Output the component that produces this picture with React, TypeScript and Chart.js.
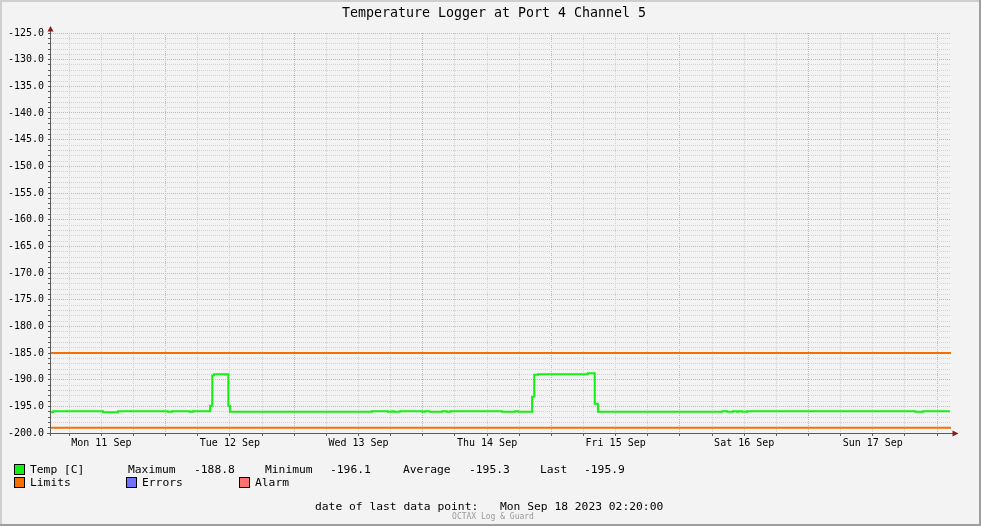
import React, { useEffect, useRef } from 'react';
import { Chart, registerables } from 'chart.js';

Chart.register(...registerables);

// ---------- data ----------
const TITLE = 'Temperature Logger at Port 4 Channel 5';
// x values are hours since Mon 11 Sep 2023 00:00
const X_MIN_H = 2.6;
const X_MAX_H = 170.6;
const Y_MIN = -200;
const Y_MAX = -125;
const DAY_LABELS = ['Mon 11 Sep', 'Tue 12 Sep', 'Wed 13 Sep', 'Thu 14 Sep', 'Fri 15 Sep', 'Sat 16 Sep', 'Sun 17 Sep'];

const TEMP_HOURS = [2.6, 3.0, 12.3, 15.1, 24.4, 25.2, 28.5, 29.1, 32.3, 32.7, 33.0, 35.7, 36.0, 62.5, 65.5, 66.2, 66.6, 67.7,
  71.9, 72.4, 73.3, 75.6, 76.5, 77.1, 86.8, 89.2, 89.8, 92.4, 92.8, 93.5, 102.8, 104.1, 104.7, 127.9, 128.8, 129.9, 130.6,
  131.0, 131.6, 132.5, 163.9, 165.4, 170.4];
const TEMP_VALUES = [-196.1, -195.9, -196.1, -195.9, -196.0, -195.9, -196.0, -195.9, -194.9, -189.2, -189.0, -194.9, -196.0,
  -195.9, -196.0, -195.9, -196.0, -195.9, -196.0, -195.9, -196.0, -195.9, -196.0, -195.9, -196.0, -195.9, -196.0, -193.2,
  -189.1, -189.0, -188.8, -194.5, -196.0, -195.9, -196.0, -195.9, -196.0, -195.9, -196.0, -195.9, -196.0, -195.9, -195.9];

const LIMIT_HIGH = -185;
const LIMIT_LOW = -199;

const STAT_LABELS = ['Maximum', 'Minimum', 'Average', 'Last'];
const STAT_VALUES = ['-188.8', '-196.1', '-195.3', '-195.9'];
const LAST_POINT_LABEL = 'date of last data point:';
const LAST_POINT_DATE = 'Mon Sep 18 2023 02:20:00';
const WATERMARK = 'OCTAX Log & Guard';

// ---------- styles ----------
const BG = '#f3f3f3';
const TEMP_COLOR = '#14f014';
const LIMIT_COLOR = '#f57000';
const ERROR_COLOR = '#7070ff';
const ALARM_COLOR = '#ff7070';
const MINOR_GRID = '#d2d2d2';
const MAJOR_GRID = '#f2a4a4';
const AXIS_COLOR = '#5c5c5c';
const ARROW_COLOR = '#8a1c1c';
const MONO = '"DejaVu Sans Mono", monospace';

const W = 981;
const H = 526;

const decorPlugin = {
  id: 'rrdDecor',
  beforeDraw(chart: any) {
    const ctx = chart.ctx;
    ctx.save();
    ctx.fillStyle = BG;
    ctx.fillRect(0, 0, W, H);
    ctx.fillStyle = '#cfcfcf';
    ctx.fillRect(0, 0, W, 2);
    ctx.fillRect(0, 0, 2, H);
    ctx.fillStyle = '#9e9e9e';
    ctx.fillRect(0, H - 2, W, 2);
    ctx.fillRect(W - 2, 0, 2, H);
    ctx.restore();
  },
  afterDraw(chart: any) {
    const ctx = chart.ctx;
    const a = chart.chartArea;
    ctx.save();
    // axes
    ctx.strokeStyle = AXIS_COLOR;
    ctx.lineWidth = 1;
    ctx.beginPath();
    ctx.moveTo(a.left - 0.5, a.bottom + 3);
    ctx.lineTo(a.left - 0.5, a.top - 2);
    ctx.moveTo(a.left - 4, a.bottom + 0.5);
    ctx.lineTo(a.right + 3, a.bottom + 0.5);
    ctx.stroke();
    // arrows
    ctx.fillStyle = ARROW_COLOR;
    ctx.beginPath();
    ctx.moveTo(a.left - 0.5, a.top - 7);
    ctx.lineTo(a.left - 3.5, a.top - 1.5);
    ctx.lineTo(a.left + 2.5, a.top - 1.5);
    ctx.closePath();
    ctx.fill();
    ctx.beginPath();
    ctx.moveTo(a.right + 7.5, a.bottom + 0.5);
    ctx.lineTo(a.right + 1.5, a.bottom - 2.5);
    ctx.lineTo(a.right + 1.5, a.bottom + 3.5);
    ctx.closePath();
    ctx.fill();

    // title
    ctx.fillStyle = '#000';
    ctx.textBaseline = 'middle';
    ctx.textAlign = 'center';
    ctx.font = '13.3px ' + MONO;
    ctx.fillText(TITLE, 494, 13.5);

    // legend
    ctx.textAlign = 'left';
    ctx.font = '11.3px ' + MONO;
    const box = (x: number, y: number, c: string) => {
      ctx.fillStyle = c;
      ctx.fillRect(x, y, 9, 9);
      ctx.strokeStyle = '#000';
      ctx.lineWidth = 1;
      ctx.strokeRect(x - 0.5, y - 0.5, 10, 10);
    };
    box(15, 465, TEMP_COLOR);
    ctx.fillStyle = '#000';
    ctx.fillText('Temp [C]', 30, 470);
    const statLabelX = [128, 265, 403, 540];
    const statValueX = [194, 330, 469, 584];
    STAT_LABELS.forEach((l, i) => {
      ctx.fillText(l, statLabelX[i], 470);
      ctx.fillText(STAT_VALUES[i], statValueX[i], 470);
    });
    box(15, 478, LIMIT_COLOR);
    box(127, 478, ERROR_COLOR);
    box(240, 478, ALARM_COLOR);
    ctx.fillStyle = '#000';
    ctx.fillText('Limits', 30, 483);
    ctx.fillText('Errors', 142, 483);
    ctx.fillText('Alarm', 255, 483);

    // footer
    ctx.fillText(LAST_POINT_LABEL, 315, 507);
    ctx.fillText(LAST_POINT_DATE, 500, 507);
    ctx.fillStyle = '#9a9a9a';
    ctx.textAlign = 'center';
    ctx.font = '8px ' + MONO;
    ctx.fillText(WATERMARK, 493, 516.5);
    ctx.restore();
  },
};

export default function App() {
  const ref = useRef<HTMLCanvasElement | null>(null);

  useEffect(() => {
    if (!ref.current) return;
    const tempData = TEMP_HOURS.map((h, i) => ({ x: h, y: TEMP_VALUES[i] }));
    const chart = new Chart(ref.current, {
      type: 'line',
      data: {
        datasets: [
          {
            label: 'Limits high',
            data: [{ x: X_MIN_H, y: LIMIT_HIGH }, { x: X_MAX_H, y: LIMIT_HIGH }],
            borderColor: LIMIT_COLOR,
            borderWidth: 2,
            pointRadius: 0,
          },
          {
            label: 'Limits low',
            data: [{ x: X_MIN_H, y: LIMIT_LOW }, { x: X_MAX_H, y: LIMIT_LOW }],
            borderColor: LIMIT_COLOR,
            borderWidth: 2,
            pointRadius: 0,
          },
          {
            label: 'Temp [C]',
            data: tempData,
            borderColor: TEMP_COLOR,
            borderWidth: 2,
            pointRadius: 0,
            stepped: true,
          },
        ],
      },
      options: {
        animation: false,
        responsive: false,
        devicePixelRatio: 1,
        layout: { padding: { left: 0, right: 30, top: 33, bottom: 73 } },
        plugins: {
          legend: { display: false },
          title: { display: false },
          tooltip: { enabled: false },
        },
        events: [],
        scales: {
          x: {
            type: 'linear',
            min: X_MIN_H,
            max: X_MAX_H,
            afterFit: (s: any) => { s.height = 20; },
            afterBuildTicks: (s: any) => {
              const t = [];
              for (let v = Math.ceil(X_MIN_H / 6) * 6; v <= X_MAX_H; v += 6) t.push({ value: v });
              s.ticks = t;
            },
            ticks: {
              autoSkip: false,
              maxRotation: 0,
              minRotation: 0,
              padding: 1,
              color: '#000',
              font: { family: 'DejaVu Sans Mono', size: 10 },
              callback: (v: any) => {
                const n = Number(v);
                if (n % 24 === 12) {
                  const d = Math.floor(n / 24);
                  return DAY_LABELS[d] ?? '';
                }
                return '';
              },
            },
            grid: {
              color: (c: any) => (c.tick && c.tick.value % 24 === 0 ? MAJOR_GRID : MINOR_GRID),
              lineWidth: 1,
              drawTicks: true,
              tickLength: 3,
              tickColor: AXIS_COLOR,
            },
            border: { display: false, dash: [1, 1] },
          },
          y: {
            type: 'linear',
            min: Y_MIN,
            max: Y_MAX,
            afterFit: (s: any) => { s.width = 51; },
            afterBuildTicks: (s: any) => {
              const t = [];
              for (let v = Y_MIN; v <= Y_MAX; v += 1) t.push({ value: v });
              s.ticks = t;
            },
            ticks: {
              autoSkip: false,
              padding: 4,
              color: '#000',
              font: { family: 'DejaVu Sans Mono', size: 10 },
              callback: (v: any) => {
                const n = Number(v);
                return n % 5 === 0 ? n.toFixed(1) : '';
              },
            },
            grid: {
              color: (c: any) => (c.tick && c.tick.value % 5 === 0 ? MAJOR_GRID : MINOR_GRID),
              lineWidth: 1,
              drawTicks: true,
              tickLength: 3,
              tickColor: AXIS_COLOR,
            },
            border: { display: false, dash: [1, 1] },
          },
        },
      },
      plugins: [decorPlugin],
    } as any);
    return () => chart.destroy();
  }, []);

  return (
    <div style={{ position: 'absolute', left: 0, top: 0, width: W, height: H }}>
      <canvas ref={ref} width={W} height={H} style={{ display: 'block', width: W, height: H }} />
    </div>
  );
}
